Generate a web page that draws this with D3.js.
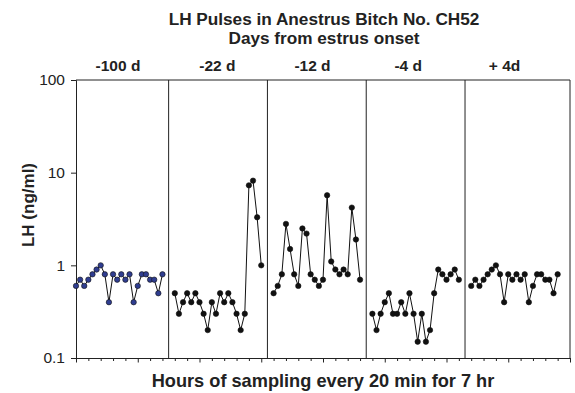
<!DOCTYPE html>
<html>
<head>
<meta charset="utf-8">
<script src="https://cdn.jsdelivr.net/npm/d3@7"></script>
<style>
  body { margin: 0; background: #fff; }
  text { font-family: "Liberation Sans", Arial, sans-serif; fill: #222; }
</style>
</head>
<body>
<div id="chart"></div>
<script>
// DATA
const panelLabels = ['-100 d', '-22 d', '-12 d', '-4 d', '+ 4d'];
const panelStart = [0, 8, 16, 24, 32];          // hour offset of each sampling day
const labelAt = [3.4, 11.45, 19.15, 26.9, 34.7]; // hour where each day label sits

const lhDay1 = [0.6, 0.7, 0.6, 0.7, 0.8, 0.9, 1.0, 0.8, 0.4, 0.8, 0.7, 0.8, 0.7, 0.8, 0.4, 0.6, 0.8, 0.8, 0.7, 0.7, 0.5, 0.8];
const lhDay2 = [0.5, 0.3, 0.4, 0.5, 0.4, 0.5, 0.4, 0.3, 0.2, 0.4, 0.3, 0.5, 0.4, 0.5, 0.4, 0.3, 0.2, 0.3, 7.3, 8.2, 3.3, 1.0];
const lhDay3 = [0.5, 0.6, 0.8, 2.8, 1.5, 0.8, 0.6, 2.5, 2.2, 0.8, 0.7, 0.6, 0.7, 5.7, 1.1, 0.9, 0.8, 0.9, 0.8, 4.2, 1.9, 0.7];
const lhDay4 = [0.3, 0.2, 0.3, 0.4, 0.5, 0.3, 0.3, 0.4, 0.3, 0.5, 0.3, 0.15, 0.3, 0.15, 0.2, 0.5, 0.9, 0.8, 0.7, 0.8, 0.9, 0.7];
const lhDay5 = [0.6, 0.7, 0.6, 0.7, 0.8, 0.9, 1.0, 0.8, 0.4, 0.8, 0.7, 0.8, 0.7, 0.8, 0.4, 0.6, 0.8, 0.8, 0.7, 0.7, 0.5, 0.8];
const series = [lhDay1, lhDay2, lhDay3, lhDay4, lhDay5];

const yTicks = [0.1, 1, 10, 100];

// DIMENSIONS
const width = 575, height = 393;
const plotLeft = 76, plotRight = 570, plotTop = 80, plotBottom = 358;

const svg = d3.select('#chart').append('svg')
  .attr('width', width)
  .attr('height', height);

const x = d3.scaleLinear().domain([0, 40]).range([plotLeft, plotRight]);
const y = d3.scaleLog().domain([0.1, 100]).range([plotBottom, plotTop]);

// titles
svg.append('text')
  .attr('x', 324).attr('y', 24.5)
  .attr('text-anchor', 'middle')
  .style('font-weight', 'bold').style('font-size', '17.2px')
  .text('LH Pulses in Anestrus Bitch No. CH52');
svg.append('text')
  .attr('x', 324).attr('y', 44)
  .attr('text-anchor', 'middle')
  .style('font-weight', 'bold').style('font-size', '17.2px')
  .text('Days from estrus onset');

// frame: top and right edges + panel dividers
svg.append('line')
  .attr('x1', x(0)).attr('x2', x(40)).attr('y1', y(100)).attr('y2', y(100))
  .style('stroke', '#222');
svg.append('line')
  .attr('x1', x(40)).attr('x2', x(40)).attr('y1', y(100)).attr('y2', y(0.1))
  .style('stroke', '#222');
svg.selectAll('line.divider')
  .data(panelStart.slice(1))
  .enter().append('line')
  .attr('class', 'divider')
  .attr('x1', d => x(d - 0.5)).attr('x2', d => x(d - 0.5))
  .attr('y1', y(100)).attr('y2', y(0.1))
  .style('stroke', '#222');

// day labels
svg.selectAll('text.day')
  .data(panelLabels)
  .enter().append('text')
  .attr('class', 'day')
  .attr('x', (d, i) => x(labelAt[i]))
  .attr('y', 70.5)
  .attr('text-anchor', 'middle')
  .style('font-weight', 'bold').style('font-size', '15.5px')
  .text(d => d);

// y axis
const yAxis = svg.append('g')
  .attr('transform', `translate(${plotLeft},0)`)
  .call(d3.axisLeft(y).tickValues(yTicks).tickSize(5).tickPadding(6)
    .tickFormat(d => d3.format('~g')(d)));
yAxis.select('.domain').style('stroke', '#222');
yAxis.selectAll('.tick line').style('stroke', '#222');
yAxis.selectAll('text')
  .style('font-family', '"Liberation Sans", Arial, sans-serif')
  .style('font-size', '15.5px').style('fill', '#222');

// x axis: hour ticks, longer every 5 h
const xAxis = svg.append('g')
  .attr('transform', `translate(0,${plotBottom})`)
  .call(d3.axisBottom(x).tickValues(d3.range(0, 41)).tickSizeOuter(0).tickFormat(''));
xAxis.select('.domain').style('stroke', '#222');
xAxis.selectAll('.tick line')
  .attr('y2', d => d % 5 === 0 ? 4.5 : 3)
  .style('stroke', '#222');

svg.append('text')
  .attr('x', 323).attr('y', 386.5)
  .attr('text-anchor', 'middle')
  .style('font-weight', 'bold').style('font-size', '18.2px')
  .text('Hours of sampling every 20 min for 7 hr');

svg.append('text')
  .attr('transform', 'translate(34,205) rotate(-90)')
  .attr('text-anchor', 'middle')
  .style('font-weight', 'bold').style('font-size', '17px')
  .text('LH (ng/ml)');

// series
const line = d3.line()
  .x(d => x(d.h))
  .y(d => y(d.v));

series.forEach(function(vals, i) {
  const pts = vals.map((v, j) => ({ h: panelStart[i] + j / 3, v: v }));
  const g = svg.append('g');
  g.append('path')
    .datum(pts)
    .attr('d', line)
    .style('fill', 'none')
    .style('stroke', '#111')
    .style('stroke-width', 1);
  g.selectAll('circle')
    .data(pts)
    .enter().append('circle')
    .attr('cx', d => x(d.h))
    .attr('cy', d => y(d.v))
    .attr('r', 2.7)
    .style('fill', i === 0 ? '#2f3d90' : '#111')
    .style('stroke', '#111')
    .style('stroke-width', 0.6);
});
</script>
</body>
</html>
